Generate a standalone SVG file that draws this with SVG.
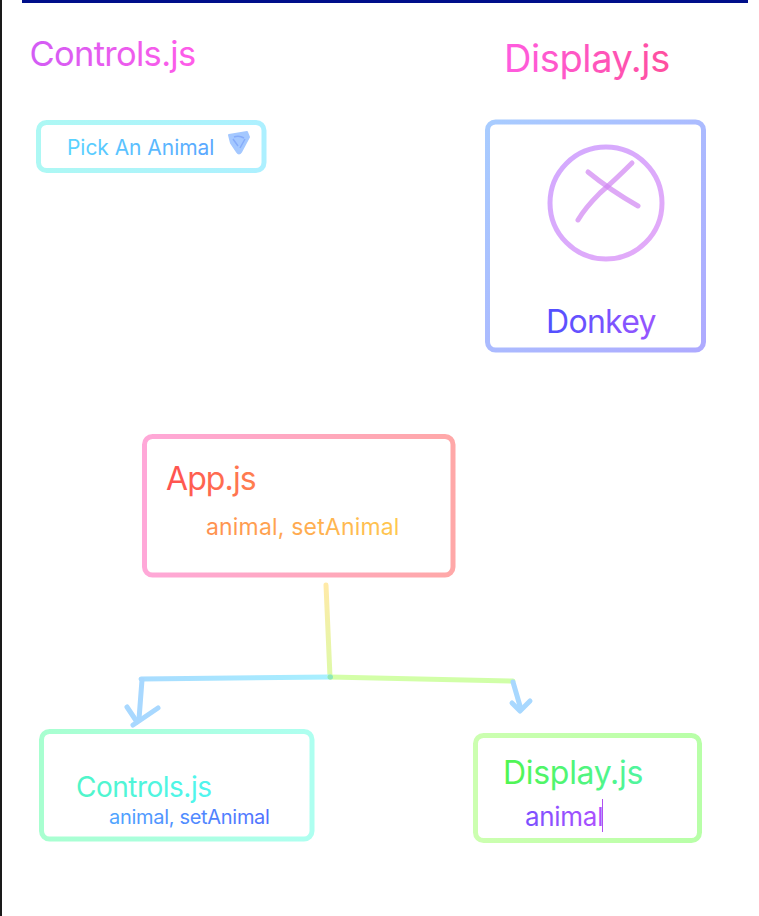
<svg xmlns="http://www.w3.org/2000/svg" width="759" height="916" viewBox="0 0 759 916">
<style>
text{font-family:"Inter","Noto Sans","Liberation Sans",sans-serif;font-weight:400}
.box{fill:none;stroke-width:5}
.ln{fill:none;stroke-width:5;stroke-linecap:round;stroke-linejoin:round}
.arrow{stroke:#a8d8ff}
</style>
<defs>
<linearGradient id="t1"><stop offset="0" stop-color="#d25cf5"/><stop offset="1" stop-color="#ff5ce8"/></linearGradient>
<linearGradient id="t2"><stop offset="0" stop-color="#ff5ce0"/><stop offset="1" stop-color="#ff4f9e"/></linearGradient>
<linearGradient id="t3"><stop offset="0" stop-color="#5ad4ff"/><stop offset="1" stop-color="#5aa6ff"/></linearGradient>
<linearGradient id="t4"><stop offset="0" stop-color="#5050ff"/><stop offset="1" stop-color="#9a55ff"/></linearGradient>
<linearGradient id="t5"><stop offset="0" stop-color="#ff5050"/><stop offset="1" stop-color="#ff7f50"/></linearGradient>
<linearGradient id="t6"><stop offset="0" stop-color="#ff9050"/><stop offset="1" stop-color="#ffc850"/></linearGradient>
<linearGradient id="t7"><stop offset="0" stop-color="#50f5c8"/><stop offset="1" stop-color="#50f5f0"/></linearGradient>
<linearGradient id="t8"><stop offset="0" stop-color="#50a5ff"/><stop offset="1" stop-color="#5070ff"/></linearGradient>
<linearGradient id="t9"><stop offset="0" stop-color="#50f550"/><stop offset="1" stop-color="#50f5a0"/></linearGradient>
<linearGradient id="t10"><stop offset="0" stop-color="#7a50ff"/><stop offset="1" stop-color="#b050ff"/></linearGradient>
<linearGradient id="b1"><stop offset="0" stop-color="#adf8f4"/><stop offset="1" stop-color="#adf0ff"/></linearGradient>
<linearGradient id="b2" x1="0" y1="0" x2="1" y2="1"><stop offset="0" stop-color="#a8ccff"/><stop offset="1" stop-color="#aeaaff"/></linearGradient>
<linearGradient id="b3"><stop offset="0" stop-color="#ffa8d8"/><stop offset="1" stop-color="#ffa8a8"/></linearGradient>
<linearGradient id="b4"><stop offset="0" stop-color="#a8ffd0"/><stop offset="1" stop-color="#aefff0"/></linearGradient>
<linearGradient id="b5"><stop offset="0" stop-color="#ccffb0"/><stop offset="1" stop-color="#b8ffa8"/></linearGradient>
<linearGradient id="c1" x1="0" y1="0" x2="1" y2="1"><stop offset="0" stop-color="#d2aaff"/><stop offset="1" stop-color="#e4aaf8"/></linearGradient>
<linearGradient id="l1" gradientUnits="userSpaceOnUse" x1="326" y1="585" x2="330" y2="677"><stop offset="0" stop-color="#ffeaa8"/><stop offset="1" stop-color="#ddfaa8"/></linearGradient>
<linearGradient id="l2" gradientUnits="userSpaceOnUse" x1="141" y1="679" x2="330" y2="677"><stop offset="0" stop-color="#a8dcff"/><stop offset="1" stop-color="#a8f0ff"/></linearGradient>
<linearGradient id="l3" gradientUnits="userSpaceOnUse" x1="330" y1="677" x2="513" y2="681"><stop offset="0" stop-color="#d4ffa8"/><stop offset="1" stop-color="#d0ffa8"/></linearGradient>
</defs>
<rect id="left-edge" x="0" y="0" width="2" height="916" fill="#1a1a1a"/>
<rect id="top-bar" x="22" y="0" width="726" height="3" fill="#000f8a"/>
<g id="connectors">
<path class="ln" d="M326 585L330 677" stroke="url(#l1)"/>
<path class="ln" d="M141 679L330 677" stroke="url(#l2)"/>
<path class="ln" d="M330 677L513 681" stroke="url(#l3)"/>
<path class="ln" d="M330 677h0.5" stroke="#8ee8b8"/>
<path class="ln arrow" d="M142 680L139 719"/>
<path class="ln arrow" d="M127 707L137 722"/>
<path class="ln arrow" d="M133 725L158 708"/>
<path class="ln arrow" d="M513 682L520 706"/>
<path class="ln arrow" d="M512 703L520 711L530 701"/>
</g>
<g id="label-controls"><text x="29.500" y="66" font-size="34.500" letter-spacing="-0.700" fill="url(#t1)">Controls.js</text></g>
<g id="label-display"><text x="504" y="72" font-size="38" letter-spacing="-0.400" fill="url(#t2)">Display.js</text></g>
<g id="dropdown">
<rect class="box" x="38.500" y="122.500" width="225.500" height="48" rx="8" stroke="url(#b1)"/>
<text x="67" y="155" font-size="21" letter-spacing="-0.050" fill="url(#t3)">Pick An Animal</text>
<path d="M229 135L247 132L249 137L241 152Q239 155 237 152L231 143Z" fill="#a4c8ff" stroke="#a4c8ff" stroke-width="2" stroke-linejoin="round"/>
<path d="M234 137Q239 135 244 138M233 139L238 146M245 139L240 148" fill="none" stroke="#86acfa" stroke-width="1.500"/>
</g>
<g id="display-card">
<rect class="box" x="487.500" y="122" width="216" height="228" rx="8" stroke="url(#b2)"/>
<circle cx="606" cy="203" r="56" fill="none" stroke="url(#c1)" stroke-width="5"/>
<g opacity="0.7"><path class="ln" d="M588 172Q610 190 638 206" stroke="#d084f2"/></g>
<g opacity="0.7"><path class="ln" d="M632 163Q615 180 600 193Q585 208 578 220" stroke="#d084f2"/></g>
<text x="546" y="333" font-size="32" letter-spacing="-0.700" fill="url(#t4)">Donkey</text>
</g>
<g id="app">
<rect class="box" x="144.500" y="436.500" width="308.500" height="138.500" rx="8" stroke="url(#b3)"/>
<text x="166" y="490" font-size="32" letter-spacing="-0.900" fill="url(#t5)">App.js</text>
<text x="206" y="535" font-size="23" letter-spacing="0.180" fill="url(#t6)">animal, setAnimal</text>
</g>
<g id="controls">
<rect class="box" x="41.500" y="731.500" width="270.500" height="107.500" rx="8" stroke="url(#b4)"/>
<text x="76" y="797" font-size="28" letter-spacing="-0.500" fill="url(#t7)">Controls.js</text>
<text x="109" y="824" font-size="20" letter-spacing="-0.300" fill="url(#t8)">animal, setAnimal</text>
</g>
<g id="display">
<rect class="box" x="475.500" y="735.500" width="224" height="105" rx="8" stroke="url(#b5)"/>
<text x="503" y="784" font-size="32" letter-spacing="-0.300" fill="url(#t9)">Display.js</text>
<text x="525" y="826" font-size="26" letter-spacing="-0.300" fill="url(#t10)">animal</text>
<rect x="602" y="799" width="1" height="33" fill="#b050f0"/>
</g>
</svg>
